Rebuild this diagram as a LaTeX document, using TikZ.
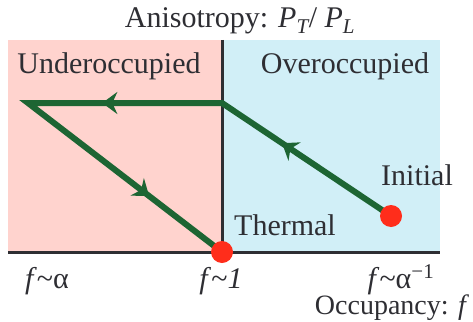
\documentclass[tikz,border=0pt]{standalone}
\usepackage{fontspec}
\setmainfont{Liberation Serif}
\usepackage{amsmath}
\definecolor{ocpink}{HTML}{FFD3CE}
\definecolor{ocblue}{HTML}{D1EFF7}
\definecolor{ocgreen}{HTML}{1D6533}
\definecolor{ocred}{HTML}{FF2D1B}
\definecolor{ocink}{HTML}{2E2E33}
\usetikzlibrary{arrows.meta,positioning,decorations.markings}

\begin{document}
\begin{tikzpicture}[x=1pt,y=-1pt,
  txt/.style={font=\fontsize{30}{34}\selectfont,text=ocink,inner sep=0pt,anchor=base},
  dot/.style={circle,fill=ocred,minimum size=22pt,inner sep=0pt},
  midarr/.tip={Stealth[length=15pt,width=22pt,inset=5pt]},
  flow/.style={ocgreen,line width=6pt,postaction={decorate},
    decoration={markings,
      mark=at position 131pt with {\arrow{midarr}},
      mark=at position 323pt with {\arrow{midarr}},
      mark=at position 550pt with {\arrow{midarr}}}},
  axis/.style={ocink,line width=3pt}]
\useasboundingbox (0,0) rectangle (473,321);
% regions
\fill[ocpink] (8,40) rectangle (222,252);
\fill[ocblue] (222,40) rectangle (440,252);
\coordinate (top) at (222,40);
\coordinate (orig) at (222,252);
\coordinate (xl) at (8,252);
\coordinate (xr) at (440,252);
\draw[axis] (top) -- (orig);
\draw[axis] (xl) -- (xr);
% path
\coordinate (init) at (391,216);
\coordinate (bend) at (222,103);
\coordinate (turn) at (28,103);
\draw[flow] (init) -- (bend) -- (turn) -- (orig);
\node[dot] (initdot) at (init) {};
\node[dot] (thermdot) at (orig) {};
% labels
\node[txt] (title) at (240,28) {Anisotropy: \textit{P}$_{\textit{T}}$/ \textit{P}$_{\textit{L}}$};
\node[txt] (under) at (109,73) {Underoccupied};
\node[txt] (over) at (345,73) {Overoccupied};
\node[txt] (initlab) at (417,185) {Initial};
\node[txt] (thermlab) at (285,235) {Thermal};
\node[txt] (fa) at (47,288) {\textit{f}\textasciitilde α};
\node[txt] (fone) at (221,288) {\textit{f}\textasciitilde\textit{1}};
\node[txt] (finv) at (401,288) {\textit{f}\textasciitilde α\textsuperscript{−1}};
\node[txt,font=\fontsize{28}{32}\selectfont] (occ) at (392,314) {Occupancy: \textit{f}};
\end{tikzpicture}
\end{document}
